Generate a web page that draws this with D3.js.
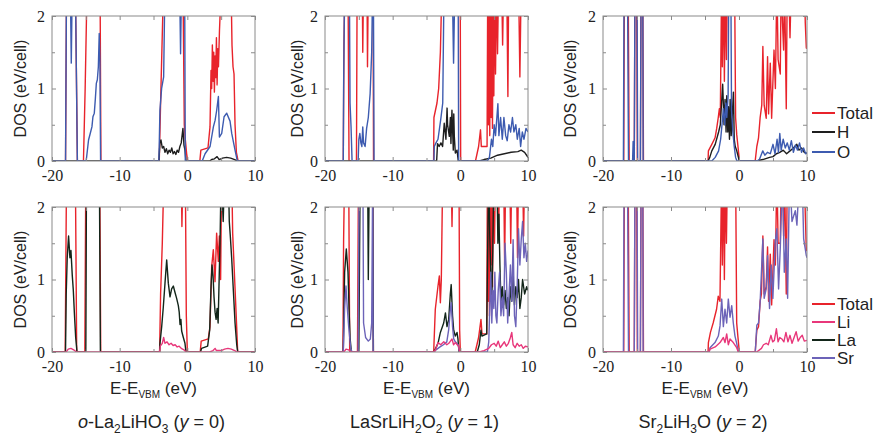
<!DOCTYPE html>
<html><head><meta charset="utf-8">
<script src="https://cdn.jsdelivr.net/npm/d3@7"></script>
<style>html,body{margin:0;padding:0;background:#fff;}svg{display:block;}
.tl{font-family:'Liberation Serif','Times New Roman',serif !important;}</style>
</head><body>
<svg id="c" width="883" height="436"></svg>
<script>
// ---------- data (E - E_VBM in eV, DOS in eV/cell; values >2 are off-scale) ----------
const xTicks = [-20, -10, 0, 10];
const yTicks = [0, 1, 2];
const legendTop = ["Total", "H", "O"];
const legendBottom = ["Total", "Li", "La", "Sr"];

const p1Total = [[-20,0],[-18.0,0],[-17.85,2.5],[-16.55,2.5],[-16.25,0],[-15.35,0],[-15.1,1.0],[-14.8,2.5],[-12.9,2.5],[-12.77,0],[-4.15,0],[-3.9,1.0],[-3.5,2.5],[-0.65,2.5],[-0.45,0.5],[-0.3,0.3],[-0.1,0.1],[0.05,0],[1.85,0],[2.0,0.15],[3.05,0.18],[3.35,0.47],[3.5,1.25],[3.6,1.0],[3.7,1.6],[3.8,1.1],[3.9,1.5],[4.0,0.95],[4.1,1.45],[4.2,1.15],[4.3,1.7],[4.4,1.05],[4.5,1.55],[4.6,1.3],[4.75,1.8],[5.05,2.5],[6.45,2.5],[6.6,1.6],[6.75,1.3],[6.9,1.2],[7.05,0.5],[7.25,0.12],[7.5,0],[10,0]];
const p1H = [[-20,0],[-4.2,0],[-4.05,0.25],[-3.9,0.29],[-3.7,0.18],[-3.5,0.2],[-3.3,0.12],[-3.1,0.17],[-2.9,0.1],[-2.7,0.15],[-2.5,0.12],[-2.3,0.18],[-2.1,0.1],[-1.9,0.13],[-1.7,0.09],[-1.5,0.15],[-1.3,0.12],[-1.1,0.2],[-0.9,0.25],[-0.65,0.45],[-0.5,0.22],[-0.35,0.15],[-0.2,0],[3.3,0],[3.6,0.02],[4.0,0.03],[4.4,0.06],[4.7,0.02],[5.2,0.04],[5.8,0.05],[6.4,0.04],[7.0,0.02],[7.4,0],[10,0]];
const p1O = [[-20,0],[-18.0,0],[-17.85,2.5],[-17.3,2.5],[-17.15,1.35],[-17.0,2.5],[-16.55,2.5],[-16.25,0],[-14.95,0],[-14.6,0.29],[-14.35,0.38],[-14.1,0.47],[-13.95,0.61],[-13.75,0.66],[-13.6,0.85],[-13.45,1.07],[-13.3,1.12],[-13.15,1.3],[-13.02,1.76],[-12.92,1.4],[-12.82,0],[-4.2,0],[-4.05,0.7],[-3.8,1.0],[-3.5,1.16],[-3.3,2.5],[-1.15,2.5],[-1.0,1.48],[-0.85,2.5],[-0.4,2.5],[-0.3,0],[2.2,0],[2.62,0.1],[3.36,0.2],[3.85,0.47],[4.1,0.56],[4.34,0.7],[4.59,0.89],[4.74,0.33],[5.08,0.38],[5.43,0.61],[5.82,0.66],[6.31,0.55],[6.56,0.38],[7.05,0.15],[7.39,0],[10,0]];

const p2Total = [[-20,0],[-17.3,0],[-17.2,1.6],[-17.05,2.5],[-16.6,2.5],[-16.45,0],[-15.35,0],[-15.25,2.5],[-14.5,2.5],[-14.42,1.5],[-14.3,2.5],[-13.8,2.5],[-13.72,1.3],[-13.6,2.5],[-12.9,2.5],[-12.83,0],[-3.95,0],[-3.9,0.6],[-3.45,0.8],[-3.2,1.0],[-2.95,1.5],[-2.7,2.5],[-0.02,2.5],[0.05,0],[2.24,0],[2.7,0.2],[2.98,0.43],[3.1,0.2],[3.95,0.2],[4.05,2.5],[4.15,0.5],[4.25,2.5],[4.35,0.35],[4.45,2.5],[4.55,0.6],[4.65,2.5],[4.75,0.45],[4.85,2.5],[4.95,0.9],[5.05,2.5],[5.2,1.2],[5.35,2.5],[5.5,1.48],[5.65,2.5],[6.1,2.5],[6.25,1.6],[6.4,2.5],[6.85,2.5],[7.03,0.89],[7.15,2.5],[8.6,2.5],[8.8,1.16],[9.0,2.5],[10,2.5]];
const p2H = [[-20,0],[-3.5,0],[-3.37,0.24],[-3.13,0.2],[-2.87,0.25],[-2.62,0.2],[-2.38,0.52],[-2.13,0.3],[-1.96,0.73],[-1.88,0.5],[-1.63,0.34],[-1.47,0.6],[-1.39,0.24],[-1.24,0.7],[-1.04,0.15],[-0.97,0.65],[-0.89,0.34],[-0.74,0.11],[-0.49,0.15],[-0.3,0],[2.8,0],[3.5,0.02],[4.5,0.04],[5.5,0.08],[6.5,0.1],[7.5,0.12],[8.5,0.13],[9.0,0.15],[9.5,0.12],[10,0.05]];
const p2O = [[-20,0],[-17.3,0],[-17.25,1.0],[-17.1,2.5],[-16.4,2.5],[-16.3,0.8],[-16.15,0.47],[-16.0,0],[-15.1,0],[-15.0,0.3],[-14.85,0.38],[-14.7,0.25],[-14.55,0.2],[-14.42,0.47],[-14.3,0.25],[-14.07,0.2],[-13.85,0.45],[-13.6,0.6],[-13.33,0.93],[-13.1,1.5],[-12.95,2.5],[-12.85,2.5],[-12.75,0],[-3.9,0],[-3.85,0.2],[-3.6,0.25],[-3.3,0.3],[-2.9,0.57],[-2.6,0.8],[-2.4,2.5],[-1.2,2.5],[-1.0,1.35],[-0.8,2.5],[-0.32,2.5],[-0.25,0],[4.0,0],[4.3,0.05],[4.6,0.3],[4.8,0.2],[5.0,0.5],[5.2,0.35],[5.55,0.79],[5.7,0.35],[5.95,0.6],[6.2,0.3],[6.44,0.6],[6.7,0.35],[6.93,0.28],[7.18,0.5],[7.43,0.4],[7.7,0.6],[7.92,0.4],[8.2,0.5],[8.42,0.3],[8.7,0.45],[8.91,0.2],[9.16,0.4],[9.41,0.3],[9.7,0.45],[10,0.4]];

const p3Total = [[-20,0],[-16.95,0],[-16.85,2.5],[-16.3,2.5],[-16.15,0],[-15.4,0],[-15.3,2.5],[-15.05,2.5],[-14.95,0],[-14.5,0],[-14.4,2.5],[-14.15,2.5],[-14.05,0],[-4.55,0],[-4.5,0.14],[-4.0,0.23],[-3.52,0.32],[-3.28,0.45],[-3.05,0.6],[-2.89,0.72],[-2.75,0.6],[-2.55,2.5],[-2.45,1.3],[-2.3,2.5],[-2.15,1.1],[-2.0,2.5],[-1.85,1.4],[-1.7,2.5],[-0.65,2.5],[-0.5,0.6],[-0.33,0.36],[-0.15,0.2],[0.07,0],[2.38,0],[2.62,0.2],[2.87,0.32],[3.11,0.6],[3.35,0.77],[3.51,1.58],[3.7,0.77],[4.0,0.59],[4.2,1.44],[4.35,0.65],[4.6,1.35],[4.8,0.59],[4.98,1.08],[5.15,1.53],[5.35,1.0],[5.57,2.5],[5.75,1.4],[6.07,1.2],[6.2,2.5],[6.4,1.9],[6.56,1.53],[6.7,2.5],[6.95,0.72],[7.1,2.5],[7.3,2.5],[7.5,1.7],[7.7,2.5],[9.6,2.5],[9.75,1.9],[9.9,1.56],[10,1.55]];
const p3H = [[-20,0],[-4.55,0],[-4.3,0.05],[-4.0,0.14],[-3.5,0.23],[-3.0,0.4],[-2.75,0.5],[-2.4,1.06],[-2.2,0.5],[-2.05,0.85],[-1.9,0.4],[-1.8,0.9],[-1.65,0.4],[-1.55,0.75],[-1.4,0.3],[-1.3,0.85],[-1.15,0.35],[-1.0,0.6],[-0.82,0.95],[-0.7,0.3],[-0.55,0.2],[-0.33,0.14],[0.05,0],[2.6,0],[3.5,0.02],[4.5,0.05],[5.0,0.06],[5.5,0.1],[6.0,0.12],[6.5,0.15],[7.0,0.1],[7.5,0.14],[8.0,0.18],[8.5,0.23],[8.8,0.15],[9.2,0.18],[9.6,0.12],[10,0.1]];
const p3O = [[-20,0],[-17.0,0],[-16.9,2.5],[-16.4,2.5],[-16.25,0],[-15.65,0],[-15.57,0.27],[-15.5,0],[-15.4,0],[-15.3,2.5],[-15.0,2.5],[-14.9,0],[-14.5,0],[-14.4,2.5],[-14.15,2.5],[-14.1,0],[-4.0,0],[-3.5,0.05],[-3.0,0.14],[-2.7,0.3],[-2.5,0.5],[-2.3,0.72],[-2.1,0.5],[-1.95,0.8],[-1.8,0.6],[-1.6,0.9],[-1.5,2.5],[-1.2,2.5],[-1.1,0.7],[-0.9,0.4],[-0.7,0.2],[-0.5,0.05],[-0.3,0],[2.6,0],[3.0,0.02],[3.5,0.14],[3.8,0.08],[4.2,0.12],[4.6,0.1],[5.0,0.23],[5.3,0.1],[5.6,0.3],[5.8,0.12],[6.0,0.38],[6.2,0.15],[6.5,0.3],[6.8,0.18],[7.1,0.25],[7.4,0.15],[7.7,0.28],[8.0,0.12],[8.3,0.22],[8.6,0.15],[8.9,0.25],[9.2,0.12],[9.5,0.18],[9.8,0.1],[10,0.12]];

const p4Total = [[-20,0],[-18.05,0],[-17.85,2.5],[-16.55,2.5],[-16.35,0],[-15.15,0],[-15.0,2.5],[-12.95,2.5],[-12.8,0],[-4.1,0],[-3.95,0.8],[-3.7,1.5],[-3.45,2.5],[-0.9,2.5],[-0.8,1.73],[-0.65,2.5],[-0.3,2.5],[-0.15,0.5],[0.0,0],[1.9,0],[2.05,0.15],[3.1,0.18],[3.35,0.35],[3.6,1.18],[3.84,1.41],[4.09,0.97],[4.33,1.64],[4.58,1.25],[4.73,1.6],[4.92,1.0],[5.07,2.5],[6.55,2.5],[6.7,1.64],[7.04,0.9],[7.29,0.35],[7.44,0],[10,0]];
const p4Li = [[-20,0],[-17.9,0],[-17.6,0.04],[-17.2,0.05],[-16.8,0.03],[-16.4,0],[-4.1,0],[-4.0,0.08],[-3.7,0.12],[-3.5,0.2],[-3.3,0.12],[-3.0,0.14],[-2.7,0.1],[-2.4,0.12],[-2.1,0.09],[-1.8,0.1],[-1.5,0.07],[-1.2,0.08],[-0.9,0.05],[-0.5,0.03],[-0.2,0],[3.3,0],[3.8,0.02],[4.1,0.05],[4.3,0.02],[5.0,0.02],[5.5,0.04],[6.0,0.05],[6.5,0.04],[7.0,0.02],[7.3,0],[10,0]];
const p4La = [[-20,0],[-18.0,0],[-17.9,0.8],[-17.75,1.3],[-17.55,1.6],[-17.35,1.3],[-17.2,1.4],[-17.0,1.05],[-16.85,0.85],[-16.7,0.55],[-16.5,0.2],[-16.3,0],[-15.0,0],[-14.9,2.5],[-13.0,2.5],[-12.85,0],[-4.1,0],[-4.04,0.12],[-3.79,0.35],[-3.55,0.62],[-3.3,0.95],[-3.05,1.27],[-2.81,0.95],[-2.56,0.76],[-2.32,0.87],[-2.07,0.91],[-1.82,0.82],[-1.58,0.74],[-1.33,0.64],[-1.2,0.55],[-1.08,0.38],[-0.95,0.45],[-0.84,0.29],[-0.59,0.2],[-0.35,0.12],[-0.2,0],[1.95,0],[2.1,0.05],[3.0,0.08],[3.3,0.3],[3.5,0.9],[3.65,1.2],[3.8,1.05],[3.95,0.75],[4.1,0.55],[4.25,0.45],[4.4,0.6],[4.55,0.4],[4.7,1.0],[4.85,1.6],[5.0,2.5],[5.3,1.8],[5.5,2.5],[6.05,2.5],[6.2,1.8],[6.35,1.6],[6.55,1.3],[6.8,0.85],[7.05,0.4],[7.3,0.1],[7.45,0],[10,0]];

const p5Total = [[-20,0],[-17.35,0],[-17.25,1.55],[-17.1,2.5],[-16.5,2.5],[-16.35,0],[-15.2,0],[-15.05,2.5],[-12.95,2.5],[-12.85,0],[-3.94,0],[-3.7,0.59],[-3.3,0.91],[-3.1,1.05],[-2.95,0.68],[-2.81,1.0],[-2.6,2.5],[-1.35,2.5],[-1.23,1.73],[-1.1,2.5],[-0.2,2.5],[-0.1,0.3],[0.0,0],[2.2,0],[2.7,0.2],[3.05,0.45],[3.2,0.25],[3.9,0.25],[4.0,2.5],[4.1,0.7],[4.2,2.5],[4.3,0.5],[4.4,2.5],[4.5,1.2],[4.6,2.5],[4.75,0.9],[4.9,2.5],[5.05,1.5],[5.2,2.5],[5.5,2.5],[5.65,1.6],[5.8,2.5],[6.4,2.5],[6.55,1.2],[6.7,2.5],[7.3,2.5],[7.45,1.5],[7.6,2.5],[8.3,2.5],[8.45,1.3],[8.6,2.5],[9.2,2.5],[9.35,1.6],[9.5,2.5],[10,2.5]];
const p5Li = [[-20,0],[-17.2,0],[-16.9,0.04],[-16.5,0.03],[-16.2,0],[-3.9,0],[-3.7,0.02],[-3.3,0.13],[-2.9,0.1],[-2.45,0.14],[-2.0,0.1],[-1.7,0.12],[-1.23,0.18],[-1.0,0.1],[-0.75,0.13],[-0.25,0.08],[-0.1,0],[2.8,0],[3.5,0.02],[4.2,0.05],[4.6,0.1],[5.0,0.12],[5.3,0.08],[5.6,0.15],[5.9,0.06],[6.2,0.1],[6.5,0.14],[6.8,0.08],[7.1,0.12],[7.4,0.2],[7.6,0.27],[7.8,0.1],[8.1,0.06],[8.4,0.12],[8.7,0.08],[9.0,0.1],[9.3,0.05],[9.6,0.08],[10,0.07]];
const p5La = [[-20,0],[-17.3,0],[-17.1,1.1],[-16.85,1.42],[-16.6,1.1],[-16.45,0.6],[-16.3,0.2],[-16.1,0],[-15.0,0],[-14.8,2.5],[-13.7,2.5],[-13.6,1.0],[-13.45,2.5],[-12.95,2.5],[-12.85,0],[-3.9,0],[-3.7,0.04],[-3.3,0.12],[-2.95,0.27],[-2.46,0.4],[-2.2,0.54],[-1.97,0.35],[-1.72,0.45],[-1.48,0.8],[-1.35,0.93],[-1.15,0.5],[-0.98,0.3],[-0.74,0.22],[-0.49,0.27],[-0.35,0.18],[-0.2,0],[2.5,0],[2.8,0.1],[3.05,0.3],[3.2,0.22],[3.9,0.25],[4.05,1.5],[4.2,2.5],[4.35,1.6],[4.5,1.1],[4.65,0.7],[4.8,1.4],[4.95,2.5],[5.4,2.5],[5.55,1.5],[5.7,1.9],[5.85,1.2],[6.0,0.7],[6.2,0.9],[6.4,0.65],[6.6,0.85],[6.8,0.6],[7.0,0.75],[7.2,0.5],[7.4,0.9],[7.6,0.7],[7.8,1.05],[8.0,0.65],[8.2,0.9],[8.4,0.75],[8.6,1.0],[8.8,0.6],[9.0,0.75],[9.2,1.0],[9.5,0.8],[9.8,0.9],[10,0.85]];
const p5Sr = [[-20,0],[-17.3,0],[-17.1,0.6],[-16.9,0.91],[-16.7,0.6],[-16.5,0.35],[-16.2,0.05],[-16.0,0],[-15.1,0],[-14.95,2.5],[-14.4,2.5],[-14.3,0.4],[-14.0,0.2],[-13.6,0.15],[-13.3,0.18],[-13.1,0.4],[-12.95,2.5],[-12.88,0],[-3.9,0],[-3.6,0.03],[-3.0,0.07],[-2.5,0.1],[-2.0,0.14],[-1.72,0.31],[-1.48,0.58],[-1.35,0.68],[-1.15,0.35],[-0.98,0.18],[-0.74,0.14],[-0.3,0.1],[-0.15,0],[4.0,0],[4.2,0.14],[4.35,0.6],[4.5,1.1],[4.65,0.4],[4.8,0.85],[4.95,0.6],[5.1,1.1],[5.25,0.5],[5.4,0.4],[5.6,0.85],[5.8,1.1],[6.0,0.5],[6.2,0.75],[6.4,0.5],[6.6,1.5],[6.8,1.1],[7.0,0.4],[7.2,0.8],[7.4,1.2],[7.6,0.7],[7.8,1.55],[8.0,0.5],[8.2,0.35],[8.4,0.9],[8.6,1.7],[8.8,1.2],[9.0,1.55],[9.2,1.8],[9.4,1.3],[9.6,1.5],[9.8,1.25],[10,1.4]];

const p6Total = [[-20,0],[-16.95,0],[-16.85,2.5],[-16.3,2.5],[-16.15,0],[-15.4,0],[-15.3,2.5],[-15.05,2.5],[-14.95,0],[-14.5,0],[-14.4,2.5],[-14.15,2.5],[-14.05,0],[-4.55,0],[-4.5,0.13],[-4.2,0.27],[-3.8,0.4],[-3.3,0.59],[-3.05,0.77],[-2.8,0.7],[-2.55,2.5],[-2.45,1.2],[-2.3,2.5],[-2.15,1.0],[-2.0,2.5],[-1.85,1.5],[-1.7,2.5],[-0.5,2.5],[-0.34,0.4],[-0.15,0.2],[0.05,0],[2.38,0],[2.62,0.3],[2.87,0.35],[3.11,0.7],[3.3,0.8],[3.51,1.6],[3.7,0.8],[4.0,0.9],[4.2,1.45],[4.35,0.7],[4.6,1.35],[4.8,0.65],[4.98,1.1],[5.15,1.55],[5.35,1.2],[5.57,2.5],[5.75,1.5],[6.07,1.5],[6.2,2.5],[6.4,2.5],[6.56,1.6],[6.7,2.5],[6.95,0.8],[7.1,2.5],[9.6,2.5],[9.75,1.9],[9.9,1.4],[10,1.4]];
const p6Li = [[-20,0],[-4.4,0],[-4.26,0.04],[-3.5,0.07],[-2.79,0.13],[-2.3,0.2],[-2.06,0.13],[-1.81,0.25],[-1.57,0.1],[-1.32,0.18],[-0.84,0.13],[-0.34,0.06],[-0.1,0],[2.6,0],[3.3,0.05],[3.6,0.1],[4.0,0.12],[4.3,0.1],[4.7,0.23],[4.95,0.14],[5.2,0.16],[5.5,0.32],[5.75,0.14],[6.0,0.2],[6.3,0.18],[6.6,0.14],[6.9,0.27],[7.2,0.14],[7.5,0.23],[7.8,0.12],[8.1,0.2],[8.4,0.28],[8.7,0.15],[9.0,0.2],[9.3,0.23],[9.6,0.15],[10,0.16]];
const p6Sr = [[-20,0],[-17.0,0],[-16.9,2.5],[-16.4,2.5],[-16.25,0],[-15.4,0],[-15.3,2.5],[-15.0,2.5],[-14.9,0],[-14.5,0],[-14.4,2.5],[-14.15,2.5],[-14.1,0],[-4.4,0],[-4.26,0.06],[-3.53,0.13],[-3.04,0.22],[-2.79,0.36],[-2.54,0.73],[-2.3,0.35],[-2.06,0.59],[-1.81,0.4],[-1.57,0.73],[-1.32,0.48],[-1.07,0.64],[-0.84,0.4],[-0.59,0.22],[-0.34,0.12],[-0.1,0],[2.4,0],[2.62,0.37],[2.87,0.4],[3.11,0.69],[3.51,1.56],[3.7,0.74],[4.0,0.87],[4.2,1.33],[4.49,0.6],[4.74,1.2],[4.98,0.74],[5.33,1.52],[5.57,1.7],[5.82,0.87],[6.07,1.43],[6.41,2.5],[6.66,1.1],[6.95,1.56],[7.15,0.74],[7.44,2.5],[7.79,1.8],[8.28,1.95],[8.52,1.75],[8.92,2.5],[9.26,2.5],[9.51,1.56],[9.9,1.33],[10,1.3]];

// ---------- style ----------
const C = {Total:"#e8232b", H:"#1e1e1e", O:"#3d5bb0", Li:"#e8377a", La:"#13261a", Sr:"#6c63b8"};
const SANS = "'Liberation Sans', Arial, sans-serif";
const SERIF = "'Liberation Serif', 'Times New Roman', serif";

const svg = d3.select("#c");
const colsX = [52, 325, 603], colsW = [203, 203, 204];
const rowsY = [16, 207], H = 145;

const panels = [
  {c:0,r:0, s:[["Total",p1Total],["H",p1H],["O",p1O]]},
  {c:1,r:0, s:[["Total",p2Total],["H",p2H],["O",p2O]]},
  {c:2,r:0, s:[["Total",p3Total],["H",p3H],["O",p3O]]},
  {c:0,r:1, s:[["Total",p4Total],["La",p4La],["Li",p4Li]]},
  {c:1,r:1, s:[["Total",p5Total],["La",p5La],["Sr",p5Sr],["Li",p5Li]]},
  {c:2,r:1, s:[["Total",p6Total],["Sr",p6Sr],["Li",p6Li]]}
];
const ylabX = [20, 297, 570];
const fmt = d => String(d);

panels.forEach((p, i) => {
  const x0 = colsX[p.c], w = colsW[p.c], y0 = rowsY[p.r];
  const x = d3.scaleLinear().domain([-20, 10]).range([x0, x0 + w]);
  const y = d3.scaleLinear().domain([0, 2]).range([y0 + H, y0]);
  const g = svg.append("g");
  const cid = "clip" + i;
  svg.append("clipPath").attr("id", cid).append("rect")
    .attr("x", x0).attr("y", y0).attr("width", w).attr("height", H);

  const line = d3.line().x(d => x(d[0])).y(d => y(d[1]));
  const lg = g.append("g").attr("clip-path", `url(#${cid})`);
  p.s.forEach(([name, data]) => {
    lg.append("path").datum(data).attr("d", line)
      .attr("fill", "none").attr("stroke", C[name]).attr("stroke-width", 1.4)
      .attr("stroke-linejoin", "round");
  });

  const fc = "#8a8a8a";
  g.append("rect").attr("x", x0).attr("y", y0).attr("width", w).attr("height", H)
    .attr("fill", "none").attr("stroke", fc).attr("stroke-width", 1);
  const xg = g.append("g").attr("transform", `translate(0,${y0 + H})`)
    .call(d3.axisBottom(x).tickValues(xTicks).tickSize(-4).tickFormat(fmt));
  g.append("g").attr("transform", `translate(0,${y0})`)
    .call(d3.axisTop(x).tickValues([-20,-15,-10,-5,0,5,10]).tickSize(-4).tickFormat(""));
  g.append("g").attr("transform", `translate(0,${y0 + H})`)
    .call(d3.axisBottom(x).tickValues([-15,-5,5]).tickSize(-3).tickFormat(""));
  const yg = g.append("g").attr("transform", `translate(${x0},0)`)
    .call(d3.axisLeft(y).tickValues(yTicks).tickSize(-4).tickFormat(fmt));
  g.append("g").attr("transform", `translate(${x0},0)`)
    .call(d3.axisLeft(y).tickValues([0.5,1.5]).tickSize(-3).tickFormat(""));
  g.append("g").attr("transform", `translate(${x0 + w},0)`)
    .call(d3.axisRight(y).tickValues([0,0.5,1,1.5,2]).tickSize(-4).tickFormat(""));
  g.selectAll(".domain").remove();
  g.selectAll(".tick line").attr("stroke", fc);
  xg.selectAll("text").attr("class", "tl").style("font-size", "16px").attr("fill", "#222")
    .attr("y", 9).attr("dy", "0.71em");
  yg.selectAll("text").attr("class", "tl").style("font-size", "16px").attr("fill", "#222")
    .attr("x", -7);

  g.append("text").attr("transform", `translate(${ylabX[p.c]},${y0 + H / 2}) rotate(-90)`)
    .attr("text-anchor", "middle").attr("dominant-baseline", "central")
    .attr("font-family", SANS).attr("font-size", 16).attr("fill", "#222").text("DOS (eV/cell)");

  if (p.r === 1) {
    const cx = x0 + w / 2;
    const t = g.append("text").attr("x", cx).attr("y", 394).attr("text-anchor", "middle")
      .attr("font-family", SANS).attr("font-size", 17).attr("fill", "#222");
    t.append("tspan").text("E-E");
    t.append("tspan").attr("font-size", 10).attr("dy", 4).text("VBM");
    t.append("tspan").attr("dy", -4).text(" (eV)");
  }
});

const titles = [
  [["o","i"],["-La",""],["2","sub"],["LiHO",""],["3","sub"],[" (",""],["y","i"],[" = 0)",""]],
  [["LaSrLiH",""],["2","sub"],["O",""],["2","sub"],[" (",""],["y","i"],[" = 1)",""]],
  [["Sr",""],["2","sub"],["LiH",""],["3","sub"],["O (",""],["y","i"],[" = 2)",""]]
];
titles.forEach((segs, i) => {
  const cx = colsX[i] + colsW[i] / 2 - 2;
  const t = svg.append("text").attr("x", cx).attr("y", 428).attr("text-anchor", "middle")
    .attr("font-family", SANS).attr("font-size", 18).attr("fill", "#222");
  let sub = false;
  segs.forEach(([s, st]) => {
    const ts = t.append("tspan").text(s);
    if (st === "sub") { ts.attr("font-size", 12).attr("dy", 5); sub = true; }
    else { if (sub) { ts.attr("dy", -5); sub = false; } if (st === "i") ts.attr("font-style", "italic"); }
  });
});

function legend(names, ys) {
  names.forEach((n, k) => {
    svg.append("line").attr("x1", 812).attr("x2", 835).attr("y1", ys[k]).attr("y2", ys[k])
      .attr("stroke", C[n]).attr("stroke-width", 2);
    svg.append("text").attr("x", 837).attr("y", ys[k]).attr("dominant-baseline", "central")
      .attr("font-family", SANS).attr("font-size", 17).attr("fill", "#222").text(n);
  });
}
legend(legendTop, [113, 132, 152]);
legend(legendBottom, [304, 322, 340, 358]);
</script>
</body></html>
